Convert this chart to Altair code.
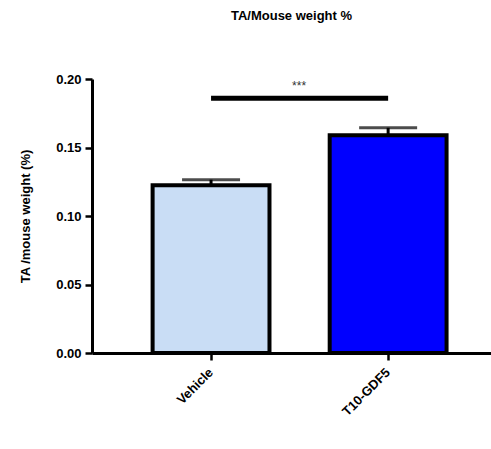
import altair as alt
import pandas as pd

groups = ["Vehicle", "T10-GDF5"]
means = [0.1224, 0.1589]
sems = [0.0041, 0.0055]
colors = ["#C9DDF5", "#0000FF"]
sig_y = 0.186
sig_label = "***"

df = pd.DataFrame({
    "group": groups,
    "mean": means,
    "upper": [m + s for m, s in zip(means, sems)],
    "color": colors,
})
sig_df = pd.DataFrame({"x1": [groups[0]], "x2": [groups[1]], "y": [sig_y], "label": [sig_label]})

FONT = "Liberation Sans"

x_scale = alt.Scale(domain=groups, paddingInner=0.34, paddingOuter=0.2966, align=0.577)
x_enc = alt.X(
    "group:N",
    scale=x_scale,
    axis=alt.Axis(
        title=None, labelAngle=-45, labelAlign="right", labelBaseline="middle",
        labelFont=FONT, labelFontWeight="bold", labelFontSize=13, labelColor="black",
        labelPadding=10, domainColor="black", domainWidth=3, tickColor="black",
        tickWidth=2.5, tickSize=7,
    ),
)
y_scale = alt.Scale(domain=[0, 0.2], nice=False)
y_axis = alt.Axis(
    title="TA /mouse weight (%)", values=[0, 0.05, 0.1, 0.15, 0.2], format=".2f",
    labelFont=FONT, labelFontWeight="bold", labelFontSize=13, labelColor="black",
    titleFont=FONT, titleFontWeight="bold", titleFontSize=13, titleColor="black",
    titlePadding=23, labelPadding=4, grid=False, domainColor="black", domainWidth=3,
    tickColor="black", tickWidth=2.5, tickSize=7,
)

base = alt.Chart(df)

bars = base.mark_bar(stroke="black", strokeWidth=4).encode(
    x=x_enc,
    y=alt.Y("mean:Q", scale=y_scale, axis=y_axis),
    fill=alt.Fill("color:N", scale=None),
)
err = base.mark_rule(color="black", strokeWidth=3).encode(
    x=alt.X("group:N", scale=x_scale), y="mean:Q", y2="upper:Q"
)
cap = base.mark_tick(color="black", thickness=3, size=58).encode(
    x=alt.X("group:N", scale=x_scale), y="upper:Q"
)
sig = alt.Chart(sig_df).mark_rule(color="black", strokeWidth=5).encode(
    x=alt.X("x1:N", scale=x_scale), x2="x2:N", y="y:Q"
)
stars = alt.Chart(sig_df).mark_text(
    font=FONT, fontSize=12, color="#333333", dx=88, dy=-5, baseline="bottom"
).encode(x=alt.X("x1:N", scale=x_scale), y="y:Q", text="label:N")

chart = alt.layer(bars, err, cap, sig, stars).properties(
    width=399, height=274,
    title=alt.Title("TA/Mouse weight %", font=FONT, fontWeight="bold", fontSize=13,
                    color="black", anchor="middle", offset=50),
    autosize=alt.AutoSizeParams(type="none"),
    padding={"left": 92, "top": 79, "right": 0, "bottom": 96},
).configure_view(stroke=None)

chart.save("out.html", embed_options={"renderer": "svg", "actions": False})
